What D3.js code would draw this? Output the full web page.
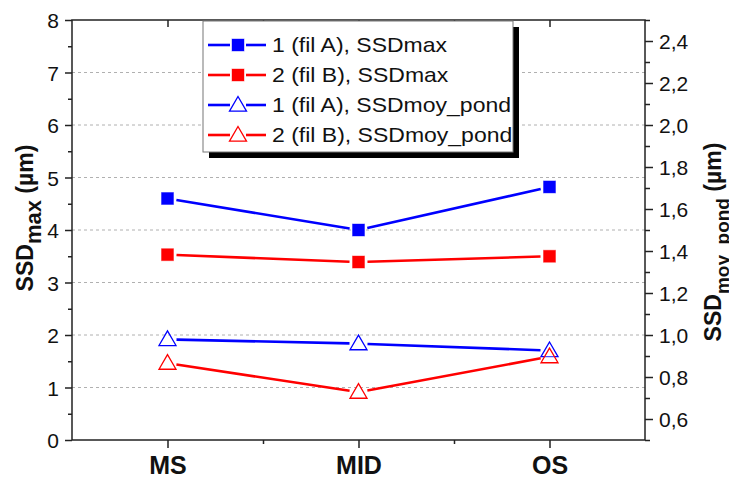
<!DOCTYPE html>
<html>
<head>
<meta charset="utf-8">
<script src="https://cdn.jsdelivr.net/npm/d3@7"></script>
<style>
  body { margin: 0; background: #fff; }
  svg { display: block; font-family: "Liberation Sans", Arial, sans-serif; }
</style>
</head>
<body>
<div id="container"></div>
<script>
const categories = ["MS", "MID", "OS"];
const catIndex = [1, 2, 3];
const maxFilA = [4.60, 4.00, 4.82];
const maxFilB = [3.53, 3.39, 3.50];
const moyFilA = [0.979, 0.959, 0.926];
const moyFilB = [0.866, 0.728, 0.897];
const leftTicks = [0, 1, 2, 3, 4, 5, 6, 7, 8];
const rightTicks = [0.6, 0.8, 1.0, 1.2, 1.4, 1.6, 1.8, 2.0, 2.2, 2.4];
const legendNames = ["1 (fil A), SSDmax", "2 (fil B), SSDmax", "1 (fil A), SSDmoy_pond", "2 (fil B), SSDmoy_pond"];

const w = 729, h = 480;
const pLeft = 72, pRight = 645, pTop = 20, pBottom = 440;

const series = [
  {name: legendNames[0], values: maxFilA, color: "#0000ff", shape: "square", axis: "left"},
  {name: legendNames[1], values: maxFilB, color: "#ff0000", shape: "square", axis: "left"},
  {name: legendNames[2], values: moyFilA, color: "#0000ff", shape: "triangle", axis: "right"},
  {name: legendNames[3], values: moyFilB, color: "#ff0000", shape: "triangle", axis: "right"}
];

const xScale = d3.scaleLinear().domain([0.5, 3.5]).range([pLeft, pRight]);
const yLeft = d3.scaleLinear().domain([0, 8]).range([pBottom, pTop]);
const yRight = d3.scaleLinear().domain([0.5, 2.5]).range([pBottom, pTop]);

const svg = d3.select("#container").append("svg")
  .attr("width", w).attr("height", h);

// grid
svg.append("g").selectAll("line")
  .data(leftTicks.filter(d => d > 0 && d < 8))
  .enter().append("line")
  .attr("x1", pLeft).attr("x2", pRight)
  .attr("y1", d => yLeft(d)).attr("y2", d => yLeft(d))
  .attr("stroke", "#b0b0b0").attr("stroke-width", 1)
  .attr("stroke-dasharray", "3,3");

// frame
svg.append("rect")
  .attr("x", pLeft).attr("y", pTop)
  .attr("width", pRight - pLeft).attr("height", pBottom - pTop)
  .attr("fill", "none").attr("stroke", "#222").attr("stroke-width", 1.5);

function styleAxis(g) {
  g.select(".domain").remove();
  g.selectAll("line").attr("stroke", "#222").attr("stroke-width", 1.5);
  g.selectAll("text").attr("fill", "#111");
}

// left axis
svg.append("g").attr("transform", `translate(${pLeft},0)`)
  .call(d3.axisLeft(yLeft).tickValues(d3.range(0.5, 8, 1)).tickSize(4).tickFormat(""))
  .call(styleAxis);
svg.append("g").attr("transform", `translate(${pLeft},0)`)
  .call(d3.axisLeft(yLeft).tickValues(leftTicks).tickSize(7).tickPadding(6).tickFormat(d3.format("d")))
  .call(styleAxis)
  .selectAll("text").style("font-size", "21px").attr("dy", "0.36em");

// right axis
svg.append("g").attr("transform", `translate(${pRight},0)`)
  .call(d3.axisRight(yRight).tickValues(d3.range(0.5, 2.55, 0.2)).tickSize(5).tickFormat(""))
  .call(styleAxis);
svg.append("g").attr("transform", `translate(${pRight},0)`)
  .call(d3.axisRight(yRight).tickValues(rightTicks).tickSize(8).tickPadding(6)
    .tickFormat(d => d3.format(".1f")(d).replace(".", ",")))
  .call(styleAxis)
  .selectAll("text").style("font-size", "21px").attr("dy", "0.36em");

// bottom axis
svg.append("g").attr("transform", `translate(0,${pBottom})`)
  .call(d3.axisBottom(xScale).tickValues([1.5, 2.5]).tickSize(4).tickFormat(""))
  .call(styleAxis);
svg.append("g").attr("transform", `translate(0,${pBottom})`)
  .call(d3.axisBottom(xScale).tickValues(catIndex).tickSize(8).tickPadding(8)
    .tickFormat((d, i) => categories[i]))
  .call(styleAxis)
  .selectAll("text").style("font-size", "25px").style("font-weight", "bold").attr("dy", "0.7em");

// top axis (inward)
svg.append("g").attr("transform", `translate(0,${pTop})`)
  .call(d3.axisBottom(xScale).tickValues([1, 3]).tickSize(7).tickFormat(""))
  .call(styleAxis);
svg.append("g").attr("transform", `translate(0,${pTop})`)
  .call(d3.axisBottom(xScale).tickValues([1.5, 2, 2.5]).tickSize(2).tickFormat(""))
  .call(styleAxis);

// axis titles
const lt = svg.append("text")
  .attr("transform", `translate(33,218) rotate(-90)`)
  .attr("text-anchor", "middle")
  .style("font-weight", "bold").style("font-size", "23px").attr("fill", "#111");
lt.append("tspan").text("SSD");
lt.append("tspan").attr("dy", 8).style("font-size", "22px").text("max");
lt.append("tspan").attr("dy", -8).text(" (µm)");

const rt = svg.append("text")
  .attr("transform", `translate(721,242) rotate(-90)`)
  .attr("text-anchor", "middle")
  .style("font-weight", "bold").style("font-size", "23px").attr("fill", "#111");
rt.append("tspan").text("SSD");
rt.append("tspan").attr("dy", 8).style("font-size", "19px").text("moy_pond");
rt.append("tspan").attr("dy", -8).text(" (µm)");

// lines with gaps near markers
const gap = 9;
function segments(s) {
  const yS = s.axis === "left" ? yLeft : yRight;
  const pts = s.values.map((v, i) => [xScale(catIndex[i]), yS(v)]);
  const segs = [];
  for (let i = 0; i < pts.length - 1; i++) {
    const [x0, y0] = pts[i], [x1, y1] = pts[i + 1];
    const len = Math.hypot(x1 - x0, y1 - y0);
    const ux = (x1 - x0) / len, uy = (y1 - y0) / len;
    segs.push([[x0 + ux * gap, y0 + uy * gap], [x1 - ux * gap, y1 - uy * gap]]);
  }
  return segs;
}

function drawMarker(g, shape, color, x, y) {
  if (shape === "square") {
    g.append("rect").attr("x", x - 6).attr("y", y - 6).attr("width", 12).attr("height", 12)
      .attr("fill", color).attr("stroke", color).attr("stroke-opacity", 0.4).attr("stroke-width", 1);
  } else {
    const s = 8.5;
    g.append("path")
      .attr("d", `M${x},${y - s} L${x + s},${y + s * 0.72} L${x - s},${y + s * 0.72} Z`)
      .attr("fill", "#fff").attr("fill-opacity", 0.3).attr("stroke", color).attr("stroke-width", 1.3);
  }
}

series.forEach(s => {
  const g = svg.append("g");
  g.selectAll("line").data(segments(s)).enter().append("line")
    .attr("x1", d => d[0][0]).attr("y1", d => d[0][1])
    .attr("x2", d => d[1][0]).attr("y2", d => d[1][1])
    .attr("stroke", s.color).attr("stroke-width", 2.6);
  const yS = s.axis === "left" ? yLeft : yRight;
  s.values.forEach((v, i) => drawMarker(g, s.shape, s.color, xScale(catIndex[i]), yS(v)));
});

// legend
const lg = svg.append("g");
lg.append("rect").attr("x", 209).attr("y", 27).attr("width", 310).attr("height", 131).attr("fill", "#000");
lg.append("rect").attr("x", 203).attr("y", 21).attr("width", 310).attr("height", 131)
  .attr("fill", "#fff").attr("stroke", "#777").attr("stroke-width", 1);
series.forEach((s, i) => {
  const y = 45 + i * 30;
  const row = lg.append("g");
  row.append("line").attr("x1", 208).attr("x2", 230).attr("y1", y).attr("y2", y)
    .attr("stroke", s.color).attr("stroke-width", 2.6);
  row.append("line").attr("x1", 246).attr("x2", 266).attr("y1", y).attr("y2", y)
    .attr("stroke", s.color).attr("stroke-width", 2.6);
  drawMarker(row, s.shape, s.color, 238, y);
  row.append("text").attr("transform", `translate(272,${y + 7}) scale(1.15,1)`)
    .style("font-size", "20px").attr("fill", "#111").text(s.name);
});
</script>
</body>
</html>
